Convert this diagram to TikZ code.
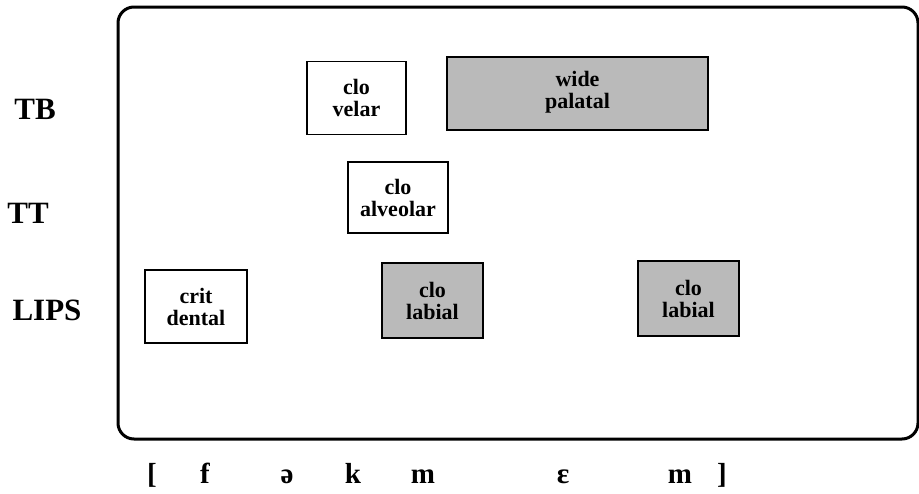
\documentclass[tikz,border=0pt]{standalone}
\usepackage{fontspec}
\setmainfont{Liberation Serif}
\begin{document}
\begin{tikzpicture}[x=1pt,y=-1pt,
  gbox/.style={draw, line width=1.3pt, align=center, inner sep=0pt,
    font=\fontsize{22}{22}\selectfont\bfseries},
  shaded/.style={gbox, fill=black!27},
  tier/.style={font=\fontsize{31}{32}\selectfont\bfseries, inner sep=0pt},
  seg/.style={font=\fontsize{29}{30}\selectfont\bfseries, inner sep=0pt, anchor=base}]
\useasboundingbox (0,0) rectangle (919,493);
\draw[line width=3pt, rounded corners=16pt] (118,7) rectangle (918,439);
% tier labels
\node[tier] (tb) at (35,109) {TB};
\node[tier] (tt) at (28,213) {TT};
\node[tier] (lips) at (47,310) {LIPS};
% gestures
\node[gbox, minimum width=99pt, minimum height=73pt] (velar) at (356.5,98) {clo\\velar};
\node[shaded, minimum width=261pt, minimum height=73pt, text depth=7pt] (palatal) at (577.5,93.5) {wide\\palatal};
\node[gbox, minimum width=100pt, minimum height=71pt] (alv) at (398,197.5) {clo\\alveolar};
\node[gbox, minimum width=102pt, minimum height=73pt] (dental) at (196,306.5) {crit\\dental};
\node[shaded, minimum width=101pt, minimum height=75pt] (lab1) at (432.5,300.5) {clo\\labial};
\node[shaded, minimum width=101pt, minimum height=75pt] (lab2) at (688.5,298.5) {clo\\labial};
% segments
\node[seg] (lb) at (152,483) {[};
\node[seg] (f) at (205,483) {f};
\node[seg] (schwa) at (287,483) {ə};
\node[seg] (k) at (353,483) {k};
\node[seg] (m1) at (423,483) {m};
\node[seg] (eps) at (563,483) {ɛ};
\node[seg] (m2) at (680,483) {m};
\node[seg] (rb) at (722,483) {]};
\end{tikzpicture}
\end{document}
